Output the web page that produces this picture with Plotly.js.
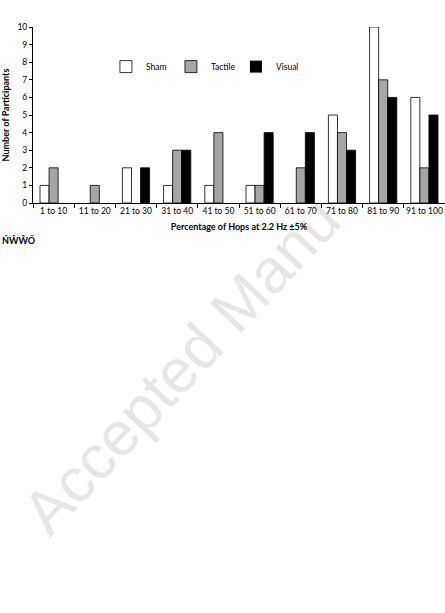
<!DOCTYPE html>
<html><head><meta charset="utf-8">
<script src="https://cdn.plot.ly/plotly-3.0.1.min.js"></script>
<style>
html,body{margin:0;padding:0;background:#fff;width:445px;height:613px;overflow:hidden;}
#wm{position:absolute;left:0;top:0;transform-origin:0 0;transform:translate(50px,538px) rotate(-47deg) translate(0,-52px);font-family:"Liberation Sans",Arial,sans-serif;font-size:62px;line-height:1;color:#e6e6e6;white-space:nowrap;z-index:0;}
#chart{position:absolute;left:0;top:0;width:445px;height:613px;z-index:1;}
</style></head>
<body>
<div id="wm">Accepted Manu</div>
<div id="chart"></div>
<script>
const categories = ["1 to 10","11 to 20","21 to 30","31 to 40","41 to 50","51 to 60","61 to 70","71 to 80","81 to 90","91 to 100"];
const sham    = [1,0,2,1,1,1,0,5,10,6];
const tactile = [2,1,0,3,4,1,2,4,7,2];
const visual  = [0,0,2,3,0,4,4,3,6,5];
const seriesNames = ["Sham","Tactile","Visual"];
const yTicks = [0,1,2,3,4,5,6,7,8,9,10];

const fnt = "Lato, Liberation Sans, Arial, sans-serif";
const colors = ["#ffffff","#a6a6a6","#000000"];
const data = [sham, tactile, visual].map((v,i)=>({
  type:"bar", x:categories, y:v, name:seriesNames[i],
  marker:{color:colors[i], line:{color:"#000", width:v.map(d => d === 0 ? 0 : 0.8)}}
}));

const layout = {
  width:445, height:613,
  margin:{l:33, r:0, t:27, b:410, pad:0},
  paper_bgcolor:"rgba(0,0,0,0)", plot_bgcolor:"#fff",
  barmode:"group", bargap:0.34, bargroupgap:0,
  font:{family:fnt, size:8.5, color:"#000"},
  showlegend:true,
  legend:{orientation:"h", x:0.177, y:0.775, xanchor:"left", yanchor:"middle",
          bgcolor:"rgba(0,0,0,0)", font:{size:8.5, family:fnt}, itemwidth:30, traceorder:"normal",
          entrywidth:20},
  xaxis:{type:"category", showline:true, linecolor:"#000", linewidth:1, ticks:"outside", ticklen:4,
         tickson:"boundaries", tickcolor:"#000", showgrid:false, zeroline:false, tickangle:0,
         tickfont:{size:8.5, family:fnt},
         title:{text:"<b>Percentage of Hops at 2.2 Hz ±5%</b>", font:{size:9, family:fnt}, standoff:8}},
  yaxis:{range:[0,10], tickvals:yTicks, showline:true, linecolor:"#000", linewidth:1, ticks:"outside", ticklen:3,
         tickcolor:"#000", showgrid:false, zeroline:false, tickfont:{size:8.5, family:fnt},
         title:{text:"<b>Number of Participants</b>", font:{size:9, family:fnt}, standoff:6}},
  annotations:[{xref:"paper", yref:"paper", x:-0.08, y:-0.21, xanchor:"left", yanchor:"middle",
    text:"<b>ŃŴŴŐ</b>", showarrow:false, font:{size:9, family:fnt, color:"#000"}}]
};
Plotly.newPlot("chart", data, layout, {displayModeBar:false, staticPlot:true});
</script>
</body></html>
